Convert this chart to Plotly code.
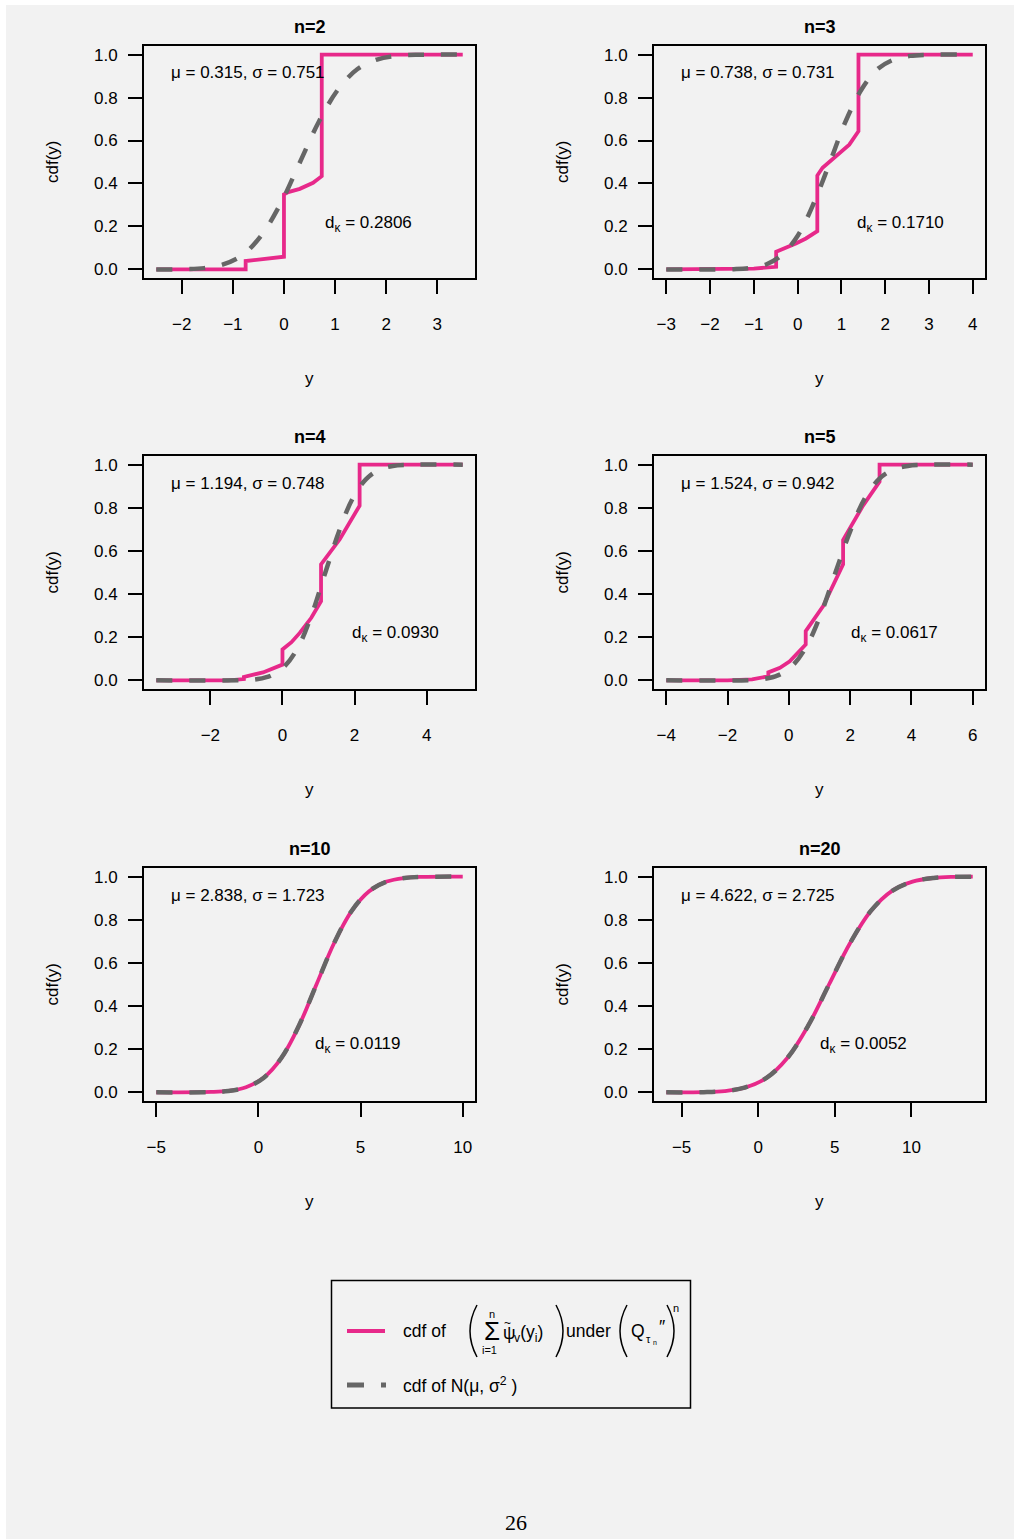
import plotly.graph_objects as go

W, H = 1014, 1539

# ---------------- data ----------------
titles = ["n=2", "n=3", "n=4", "n=5", "n=10", "n=20"]
mu_text = ["0.315", "0.738", "1.194", "1.524", "2.838", "4.622"]
sigma_text = ["0.751", "0.731", "0.748", "0.942", "1.723", "2.725"]
d_kappa = ["0.2806", "0.1710", "0.0930", "0.0617", "0.0119", "0.0052"]

x_ranges = [[-2.74, 3.74], [-3.28, 4.28], [-3.84, 5.34], [-4.4, 6.4], [-5.6, 10.6], [-6.8, 14.8]]
y_range = [-0.04, 1.04]
x_tickvals = [[-2, -1, 0, 1, 2, 3], [-3, -2, -1, 0, 1, 2, 3, 4], [-2, 0, 2, 4],
              [-4, -2, 0, 2, 4, 6], [-5, 0, 5, 10], [-5, 0, 5, 10]]
y_tickvals = [0, 0.2, 0.4, 0.6, 0.8, 1.0]

# cdf of the sum (pink, step-like curves)
sum2_x = [-2.5, -0.75, -0.75, -0.4, 0.0, 0.0, 0.085, 0.31, 0.57, 0.74, 0.74, 3.5]
sum2_y = [0.0, 0.0, 0.039, 0.048, 0.059, 0.349, 0.36, 0.375, 0.403, 0.434, 1.0, 1.0]
sum3_x = [-3.0, -1.5, -1.0, -0.49, -0.49, -0.04, 0.19, 0.45, 0.45, 0.57, 0.87, 1.18, 1.39, 1.39, 4.0]
sum3_y = [0.0, 0.0, 0.004, 0.012, 0.082, 0.121, 0.144, 0.178, 0.437, 0.473, 0.527, 0.581, 0.643, 1.0, 1.0]
sum4_x = [-3.5, -1.5, -1.07, -1.07, -0.54, 0.0, 0.0, 0.25, 0.48, 0.8, 1.07, 1.07, 1.59, 2.14, 2.14, 5.0]
sum4_y = [0.0, 0.0, 0.006, 0.016, 0.037, 0.073, 0.143, 0.177, 0.22, 0.29, 0.367, 0.538, 0.654, 0.81, 1.0, 1.0]
sum5_x = [-4.0, -2.0, -1.2, -0.67, -0.67, -0.29, 0.03, 0.55, 0.55, 1.12, 1.77, 1.77, 2.42, 2.96, 2.96, 6.0]
sum5_y = [0.0, 0.0, 0.005, 0.019, 0.037, 0.058, 0.088, 0.166, 0.228, 0.344, 0.538, 0.651, 0.81, 0.921, 1.0, 1.0]
sum10_x = [-5.0, -2.33, -1.47, -0.61, 0.25, 1.12, 1.98, 2.84, 3.70, 4.56, 5.42, 6.28, 7.15, 8.01, 10.0]
sum10_y = [0.0, 0.002, 0.007, 0.024, 0.068, 0.159, 0.308, 0.5, 0.691, 0.84, 0.932, 0.977, 0.994, 0.999, 1.0]
sum20_x = [-6.0, -3.55, -2.19, -0.83, 0.54, 1.90, 3.26, 4.62, 5.99, 7.35, 8.71, 10.07, 11.44, 12.80, 14.0]
sum20_y = [0.0, 0.001, 0.006, 0.023, 0.067, 0.159, 0.309, 0.5, 0.691, 0.841, 0.933, 0.977, 0.994, 0.999, 1.0]

# cdf of N(mu, sigma^2) (grey dashed curves)
norm2_x = [-2.5, -1.94, -1.56, -1.19, -0.81, -0.44, -0.06, 0.315, 0.69, 1.07, 1.44, 1.82, 2.19, 2.57, 3.5]
norm3_x = [-3.0, -1.46, -1.09, -0.72, -0.36, 0.01, 0.37, 0.74, 1.10, 1.47, 1.83, 2.20, 2.57, 2.93, 4.0]
norm4_x = [-3.5, -1.05, -0.68, -0.30, 0.07, 0.45, 0.82, 1.19, 1.57, 1.94, 2.32, 2.69, 3.06, 3.44, 5.0]
norm5_x = [-4.0, -1.30, -0.83, -0.36, 0.11, 0.58, 1.05, 1.52, 2.00, 2.47, 2.94, 3.41, 3.88, 4.35, 6.0]
norm10_x = [-5.0, -2.33, -1.47, -0.61, 0.25, 1.12, 1.98, 2.84, 3.70, 4.56, 5.42, 6.28, 7.15, 8.01, 10.0]
norm20_x = [-6.0, -3.55, -2.19, -0.83, 0.54, 1.90, 3.26, 4.62, 5.99, 7.35, 8.71, 10.07, 11.44, 12.80, 14.0]
norm_y = [0.0, 0.001, 0.006, 0.023, 0.067, 0.159, 0.309, 0.5, 0.691, 0.841, 0.933, 0.977, 0.994, 0.999, 1.0]

sum_series = [(sum2_x, sum2_y), (sum3_x, sum3_y), (sum4_x, sum4_y),
              (sum5_x, sum5_y), (sum10_x, sum10_y), (sum20_x, sum20_y)]
norm_series = [(norm2_x, norm_y), (norm3_x, norm_y), (norm4_x, norm_y),
               (norm5_x, norm_y), (norm10_x, norm_y), (norm20_x, norm_y)]

# ---------------- layout / style ----------------
PINK = "#E7298A"
GREY = "#666666"
BG = "#f2f2f2"
FONT = "Liberation Sans, Arial, Helvetica, sans-serif"
FS = 17

col_lr = [(144, 475), (654, 985)]
row_tb = [(46, 278), (456, 689), (868, 1101)]
d_pos = [(323, 224), (855, 224), (350, 634), (849, 634), (313, 1045), (818, 1045)]


def fx(x):
    return x / W


def fy(y):
    return 1 - y / H


fig = go.Figure()
annotations = []
shapes = []
layout_axes = {}

for i in range(6):
    r, c = divmod(i, 2)
    L, R = col_lr[c]
    T, B = row_tb[r]
    ax = "" if i == 0 else str(i + 1)
    sx, sy = sum_series[i]
    nx, ny = norm_series[i]
    smooth = "spline" if i >= 4 else "linear"
    fig.add_trace(go.Scatter(x=sx, y=sy, mode="lines", xaxis="x" + ax, yaxis="y" + ax,
                             line=dict(color=PINK, width=3.8, shape=smooth),
                             showlegend=False, hoverinfo="skip"))
    fig.add_trace(go.Scatter(x=nx, y=ny, mode="lines", xaxis="x" + ax, yaxis="y" + ax,
                             line=dict(color=GREY, width=4.5, dash="16px,17px", shape="spline",
                                       smoothing=1.0),
                             showlegend=False, hoverinfo="skip"))
    common = dict(showgrid=False, zeroline=False, showline=True, linewidth=2, linecolor="black",
                  mirror=True, ticks="outside", ticklen=14, tickwidth=1.8, tickcolor="black",
                  tickfont=dict(family=FONT, size=FS, color="black"), fixedrange=True)
    layout_axes["xaxis" + ax] = dict(domain=[fx(L), fx(R)], range=x_ranges[i], anchor="y" + ax,
                                     tickmode="array", tickvals=x_tickvals[i],
                                     ticklabelstandoff=16, **common)
    layout_axes["yaxis" + ax] = dict(domain=[fy(B), fy(T)], range=y_range, anchor="x" + ax,
                                     tickmode="array", tickvals=y_tickvals, tickformat=".1f",
                                     ticklabelstandoff=7, **common)
    cx = (L + R) / 2
    annotations.append(dict(text="<b>" + titles[i] + "</b>", x=fx(cx), y=fy(T - 19),
                            font=dict(family=FONT, size=18, color="black")))
    annotations.append(dict(text="μ = " + mu_text[i] + ", σ = " + sigma_text[i],
                            x=fx(L + 25), y=fy(T + 27), xanchor="left",
                            font=dict(family=FONT, size=FS, color="black")))
    annotations.append(dict(text="d<sub>κ</sub> = " + d_kappa[i], x=fx(d_pos[i][0]), y=fy(d_pos[i][1]),
                            xanchor="left", font=dict(family=FONT, size=FS, color="black")))
    annotations.append(dict(text="cdf(y)", textangle=-90, x=fx(L - 92), y=fy((T + B) / 2),
                            font=dict(family=FONT, size=FS, color="black")))
    annotations.append(dict(text="y", x=fx(cx), y=fy(B + 100),
                            font=dict(family=FONT, size=FS, color="black")))

# ---------------- legend box ----------------
shapes.append(dict(type="rect", xref="paper", yref="paper", x0=fx(331.5), x1=fx(690.5),
                   y0=fy(1408), y1=fy(1280.5), line=dict(color="black", width=1.5)))
shapes.append(dict(type="line", xref="paper", yref="paper", x0=fx(347), x1=fx(385),
                   y0=fy(1331), y1=fy(1331), line=dict(color=PINK, width=4)))
shapes.append(dict(type="line", xref="paper", yref="paper", x0=fx(347), x1=fx(386),
                   y0=fy(1385), y1=fy(1385), line=dict(color=GREY, width=5, dash="17px,17px")))


def paren(x_end, x_mid, y0, y1):
    ym = (y0 + y1) / 2
    return dict(type="path", xref="paper", yref="paper",
                path="M %f,%f Q %f,%f %f,%f" % (fx(x_end), fy(y0), fx(x_mid), fy(ym), fx(x_end), fy(y1)),
                line=dict(color="black", width=1.5))


shapes.append(paren(477, 463, 1305, 1357))
shapes.append(paren(556, 570, 1305, 1357))
shapes.append(paren(627, 613, 1305, 1357))
shapes.append(paren(667, 681, 1305, 1357))


def lt(text, x, y, size, anchor="left"):
    annotations.append(dict(text=text, x=fx(x), y=fy(y), xanchor=anchor,
                            font=dict(family=FONT, size=size, color="black")))


LF = 17.5
lt("cdf of", 401, 1331, LF)
lt("n", 492, 1314, 11, "center")
lt("Σ", 492, 1331, 26, "center")
lt("i=1", 489, 1350, 11, "center")
lt("ψ", 501, 1333, LF)
lt("~", 507.5, 1323, 12, "center")
lt("<sub>v</sub>(y<sub>i</sub>)", 512, 1333, LF)
lt("under", 564, 1331, LF)
lt("Q", 629, 1331, LF)
lt("τ", 644, 1339, 11)
lt("n", 651, 1342, 7)
lt("″", 657, 1327, LF)
lt("n", 676, 1308, 11, "center")
lt("cdf of N(μ, σ<sup>2</sup> )", 401, 1385, LF)

# page number
annotations.append(dict(text="26", x=fx(516), y=fy(1522),
                        font=dict(family="Liberation Serif, Times New Roman, serif", size=22, color="black")))

for a in annotations:
    a.setdefault("xref", "paper")
    a.setdefault("yref", "paper")
    a.setdefault("showarrow", False)
    a.setdefault("xanchor", "center")
    a.setdefault("yanchor", "middle")

# page background (white rim on top/left)
shapes.insert(0, dict(type="rect", xref="paper", yref="paper", x0=fx(6), x1=1, y0=0, y1=fy(5),
                      fillcolor=BG, line=dict(width=0), layer="below"))

fig.update_layout(width=W, height=H, margin=dict(l=0, r=0, t=0, b=0),
                  paper_bgcolor="white", plot_bgcolor=BG, showlegend=False,
                  annotations=annotations, shapes=shapes, **layout_axes)

fig.write_html("out.html", config={"displayModeBar": False},
               post_script="document.body.style.margin='0px';document.body.style.overflow='hidden';")
